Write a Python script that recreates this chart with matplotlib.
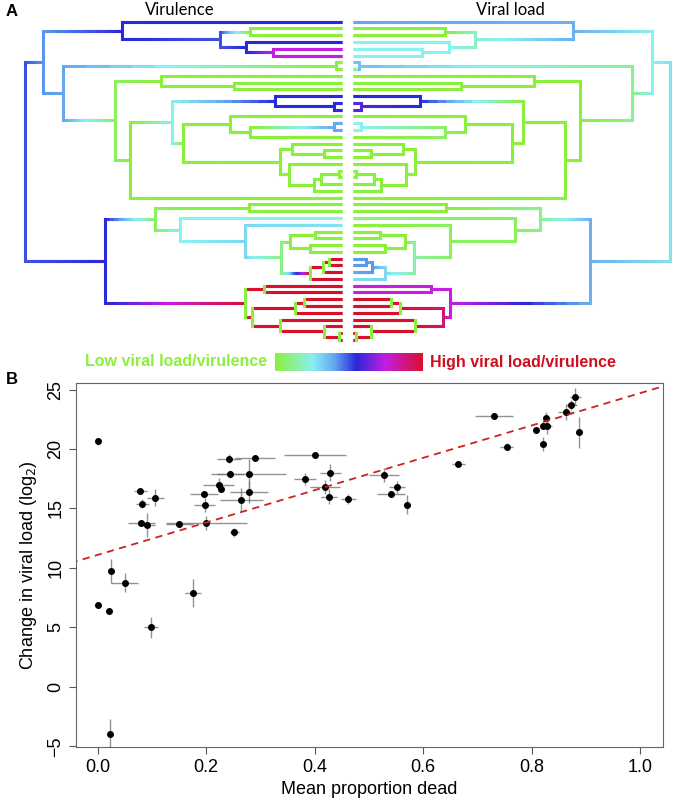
import numpy as np
import matplotlib.pyplot as plt
from matplotlib.collections import LineCollection
from matplotlib.colors import LinearSegmentedColormap

plt.rcParams['font.family'] = ['Liberation Sans', 'DejaVu Sans']

# ── Panel A data: shared tree topology (scipy-linkage style, leaves 0..47) ──
merge_a = [1, 4, 3, 48, 0, 6, 9, 8, 12, 11, 15, 58, 14, 19, 18, 22, 63, 64, 21, 62,
           60, 57, 69, 55, 53, 52, 27, 31, 33, 75, 35, 78, 79, 77, 30, 29, 74, 39, 41, 86,
           46, 45, 44, 87, 85, 84, 73]
merge_b = [2, 5, 49, 50, 51, 7, 10, 54, 13, 56, 16, 17, 59, 20, 61, 23, 24, 25, 65, 66,
           67, 68, 26, 70, 71, 72, 28, 32, 34, 76, 36, 37, 38, 80, 81, 82, 83, 40, 42, 43,
           47, 88, 89, 90, 91, 92, 93]
merge_h = [91.7, 69, 95.7, 121.7, 220, 5.7, 108.3, 180.7, 8.3, 66.7, 8.3, 91.7, 112.3, 18.3,
           50, 3, 21, 28.3, 53.3, 61.7, 159, 170, 211.7, 226.7, 279, 299, 93.3, 26.7, 31.7,
           52.3, 13.3, 19, 31.7, 60.7, 96.7, 161.7, 186.7, 78.3, 38.3, 47.3, 3, 18.3, 62.3,
           90, 97.3, 236.7, 316.7]

# trait level (0 = low / green, 1 = high / red)
vir_leaf = [.55, 0, 0, .55, .75, .75, 0, 0, 0, 0, 0, .55, .55, .55, 0, .4, .4, 0, 0, 0, 0, 0,
            0, 0, 0, 0, 0, 0, 0, .25, .28, 0, 0, 0, 0, 1, 1, 1, 1, 1, 1, 1, 1, 1, 1, 1, 1, 1]
vir_node = [0, .75, .55, .5, .55, 0, 0, 0, .55, .55, .4, 0, 0, 0, 0, 0, 0, 0, 0, 0, 0, .25, 0,
            .05, .4, .42, 0, 0, 0, 0, 1, 1, 1, .1, .3, .25, .05, 1, 1, 1, 1, 1, 1, 1, 1, .55, .5]
load_leaf = [.4, 0, 0, .25, .25, .25, .35, 0, 0, 0, 0, .55, .6, .6, 0, .25, .25, 0, 0, 0, 0, 0,
             0, 0, 0, 0, 0, 0, 0, .1, 0, 0, 0, 0, 0, .42, .42, .4, .3, .75, .75, 1, 1, 1, 1, 1, 1, 1]
load_node = [0, .25, .25, .2, .38, .35, 0, 0, .6, .55, .25, .05, 0, 0, 0, 0, 0, 0, 0, 0, 0, 0, 0,
             0, .12, .25, 0, 0, 0, 0, .42, .42, .3, .15, .05, .05, .12, .75, 1, 1, 1, 1, 1, .9, .75,
             .38, .28]

# ── Panel B data ──
prop_dead = [0, .401, .242, .29, .244, .278, .382, .429, .223, .227, .078, .196, .278, .419,
             .106, .265, .426, .462, .082, .197, .08, .09, .15, .2, .252, .025, .05, .175, 0,
             .02, .098, .023, .528, .552, .54, .57, .665, .73, .754, .808, .821, .827, .828,
             .821, .863, .873, .880, .888]
viral_load = [20.66, 19.5, 19.2, 19.26, 17.9, 17.9, 17.5, 18.0, 17.0, 16.6, 16.5, 16.2, 16.4,
              16.8, 15.9, 15.7, 16.0, 15.8, 15.4, 15.3, 13.8, 13.6, 13.7, 13.8, 13.0, 9.76, 8.75,
              7.9, 6.9, 6.37, 5.0, -3.96, 17.8, 16.8, 16.2, 15.3, 18.75, 22.76, 20.2, 21.6, 21.9,
              22.6, 21.9, 20.4, 23.1, 23.7, 24.4, 21.4]
prop_err = [0, .057, .022, .037, .025, .07, .02, .02, .028, .005, .012, .025, .035, .028, .016,
            .04, .015, .014, .012, .02, .025, .015, .025, .075, .008, .005, .025, .015, 0, .005,
            .013, 0, .028, .015, .026, .006, .012, .035, .012, .006, .006, .006, .01, .006, .015,
            .01, .01, .003]
load_err = [.3, .1, .4, .1, .3, 1.3, .5, .7, .6, .2, .1, .2, .9, .6, .7, 1.0, .6, .4, .4, .6,
            .2, 1.0, .2, .6, .4, 1.0, .8, 1.2, .1, .1, .9, 1.3, .6, .5, .2, .8, .1, .2, .3, .1,
            .2, .5, .6, .6, .7, .4, .7, 1.3]
fit_intercept, fit_slope = 11.1, 13.6

cmap = LinearSegmentedColormap.from_list('trait', [
    (0, '#8af03c'), (.25, '#8af0f0'), (.4, '#64a8f0'), (.55, '#2a28d8'),
    (.75, '#c41ee0'), (1, '#d8102c')])

fig = plt.figure(figsize=(6.73, 8), dpi=100)
axA = fig.add_axes([0, 0, 1, 1])
axA.set_xlim(0, 673)
axA.set_ylim(800, 0)
axA.axis('off')

n_leaf = len(vir_leaf)
leaf_y = [21.7 + i * 6.77 for i in range(n_leaf)]
node_y = list(leaf_y)
node_h = [0.0] * n_leaf
for a, b, h in zip(merge_a, merge_b, merge_h):
    node_y.append((node_y[a] + node_y[b]) / 2)
    node_h.append(h)


def draw_tree(x0, direction, leaf_val, node_val):
    vals = list(leaf_val) + list(node_val)
    vsegs, vcols, hsegs, hcols = [], [], [], []
    for k, (a, b) in enumerate(zip(merge_a, merge_b)):
        p = n_leaf + k
        xp = x0 + direction * node_h[p]
        vsegs.append([(xp, node_y[a]), (xp, node_y[b])])
        vcols.append(cmap(vals[p]))
        for c in (a, b):
            xc = x0 + direction * node_h[c]
            nseg = 12
            xs = xp + (xc - xp) * np.linspace(0, 1, nseg + 1)
            for i in range(nseg):
                # overlap each piece a little so no gaps show
                x_end = xs[min(i + 2, nseg)] if i < nseg - 1 else xs[i + 1]
                hsegs.append([(xs[i], node_y[c]), (x_end, node_y[c])])
                hcols.append(cmap(vals[p] + (vals[c] - vals[p]) * (i + .5) / nseg))
    axA.add_collection(LineCollection(hsegs, colors=hcols, linewidths=2.2, capstyle='butt'))
    axA.add_collection(LineCollection(vsegs, colors=vcols, linewidths=2.2, capstyle='projecting'))


draw_tree(342, -1, vir_leaf, vir_node)
draw_tree(353, 1, load_leaf, load_node)

axA.text(180, 10, 'Virulence', ha='center', va='center', fontsize=12, family=['Lato', 'DejaVu Sans'])
axA.text(510, 10, 'Viral load', ha='center', va='center', fontsize=12, family=['Lato', 'DejaVu Sans'])
axA.text(6, 12, 'A', fontsize=12, fontweight='bold', va='center')
axA.text(6, 380, 'B', fontsize=12, fontweight='bold', va='center')

grad = np.linspace(0, 1, 256).reshape(1, -1)
axA.imshow(grad, cmap=cmap, aspect='auto', extent=(275, 423, 371, 353))
axA.text(267, 362, 'Low viral load/virulence', ha='right', va='center', fontsize=11.5,
         fontweight='bold', color='#8af03c')
axA.text(430, 362, 'High viral load/virulence', ha='left', va='center', fontsize=11.5,
         fontweight='bold', color='#cc1020')

# ── Panel B ──
axB = fig.add_axes([76 / 673, 1 - 747 / 800, (663 - 76) / 673, (747 - 383) / 800])
axB.errorbar(prop_dead, viral_load, xerr=prop_err, yerr=load_err, fmt='none',
             ecolor='#777777', elinewidth=1.0, capsize=0, alpha=0.8)
axB.plot(prop_dead, viral_load, 'o', color='black', markersize=4)
xx = np.array([-0.05, 1.05])
axB.plot(xx, fit_intercept + fit_slope * xx, '--', color='#cc2222', linewidth=1.3, dashes=(4, 3))
axB.set_xlim(-0.04, 1.042)
axB.set_ylim(-5.05, 25.55)
axB.set_xticks([0, .2, .4, .6, .8, 1.0])
axB.set_xticklabels(['0.0', '0.2', '0.4', '0.6', '0.8', '1.0'])
axB.set_yticks([-5, 0, 5, 10, 15, 20, 25])
axB.set_yticklabels(['\u22125', '0', '5', '10', '15', '20', '25'], rotation=90, va='center')
axB.tick_params(labelsize=13, length=5, color='#555555')
for s in axB.spines.values():
    s.set_color('#666666')
axB.set_xlabel('Mean proportion dead', fontsize=13, labelpad=4)
axB.set_ylabel('Change in viral load (log$_2$)', fontsize=13, labelpad=6)

fig.savefig('out.png', dpi=100)
